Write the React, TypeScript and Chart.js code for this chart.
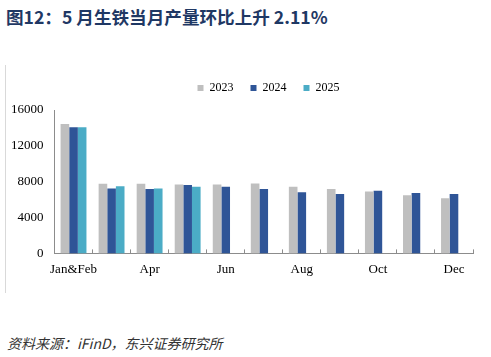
import React, { useEffect, useRef } from 'react';
import { Chart, registerables } from 'chart.js';

Chart.register(...registerables);

const categories = ['Jan&Feb', 'Mar', 'Apr', 'May', 'Jun', 'Jul', 'Aug', 'Sep', 'Oct', 'Nov', 'Dec'];
const seriesNames = ['2023', '2024', '2025'];
const values2023 = [14430, 7760, 7760, 7690, 7690, 7800, 7430, 7180, 6920, 6480, 6150];
const values2024 = [14070, 7250, 7180, 7620, 7430, 7180, 6810, 6630, 6990, 6740, 6630];
const values2025 = [14070, 7500, 7250, 7430, null, null, null, null, null, null, null];
const yMax = 16000;
const yStep = 4000;

const colors = ['#bfbfbf', '#2f5597', '#4bacc6'];

const shiftLegend = {
  id: 'shiftLegend',
  afterLayout(chart: any) {
    const lg = chart.legend;
    if (!lg) return;
    const dx = 32;
    const dy = -6;
    lg.left += dx;
    lg.right += dx;
    lg.top += dy;
    lg.bottom += dy;
  },
};

export default function App() {
  const ref = useRef<HTMLCanvasElement | null>(null);

  useEffect(() => {
    if (!ref.current) return;
    const chart = new Chart(ref.current, {
      type: 'bar',
      data: {
        labels: categories,
        datasets: [values2023, values2024, values2025].map((d, i) => ({
          label: seriesNames[i],
          data: d,
          backgroundColor: colors[i],
          borderWidth: 0,
          categoryPercentage: 0.68,
          barPercentage: 1,
        })),
      },
      options: {
        responsive: false,
        animation: false,
        layout: { padding: { left: 0, right: 18, top: 11, bottom: 11 } },
        plugins: {
          tooltip: { enabled: false },
          legend: {
            position: 'top',
            labels: {
              boxWidth: 6,
              boxHeight: 6,
              padding: 17,
              color: '#000',
              font: { family: '"Liberation Serif", "Times New Roman", serif', size: 12 },
            },
          },
        },
        scales: {
          x: {
            grid: {
              display: true,
              drawOnChartArea: false,
              offset: true,
              drawTicks: true,
              tickLength: -4,
              color: '#8c8c8c',
            },
            border: { display: true, color: '#8c8c8c', width: 1 },
            ticks: {
              autoSkip: false,
              maxRotation: 0,
              padding: 12,
              color: '#000',
              font: { family: '"Liberation Serif", "Times New Roman", serif', size: 13 },
              callback: (_v: any, idx: number) => (idx % 2 === 0 ? categories[idx] : ''),
            },
          },
          y: {
            min: 0,
            max: yMax,
            grid: { display: false, drawTicks: false },
            border: { display: true, color: '#8c8c8c', width: 1 },
            ticks: {
              stepSize: yStep,
              padding: 11,
              color: '#000',
              font: { family: '"Liberation Serif", "Times New Roman", serif', size: 13 },
              callback: (v: any) => String(v),
            },
          },
        },
      },
      plugins: [shiftLegend],
    });
    return () => chart.destroy();
  }, []);

  return (
    <div style={{ position: 'fixed', left: 0, top: 0, width: 491, height: 357, background: '#fff', overflow: 'hidden' }}>
      <div
        style={{
          position: 'absolute',
          left: 6,
          top: 5,
          fontFamily: '"Noto Sans CJK SC", "Noto Sans", sans-serif',
          fontWeight: 700,
          fontSize: 17.6,
          lineHeight: '24px',
          color: '#1f3864',
          whiteSpace: 'nowrap',
        }}
      >
        图12：5 月生铁当月产量环比上升 2.11%
      </div>
      <div style={{ position: 'absolute', left: 5, top: 65, width: 1, height: 228, background: '#d9d9d9' }} />
      <canvas ref={ref} width={491} height={240} style={{ position: 'absolute', left: 0, top: 60, width: 491, height: 240 }} />
      <div
        style={{
          position: 'absolute',
          left: 7,
          top: 333,
          fontFamily: '"Noto Sans CJK SC", sans-serif',
          fontStyle: 'italic',
          fontSize: 14,
          lineHeight: '20px',
          color: '#333',
          whiteSpace: 'nowrap',
        }}
      >
        资料来源：iFinD，东兴证券研究所
      </div>
    </div>
  );
}
